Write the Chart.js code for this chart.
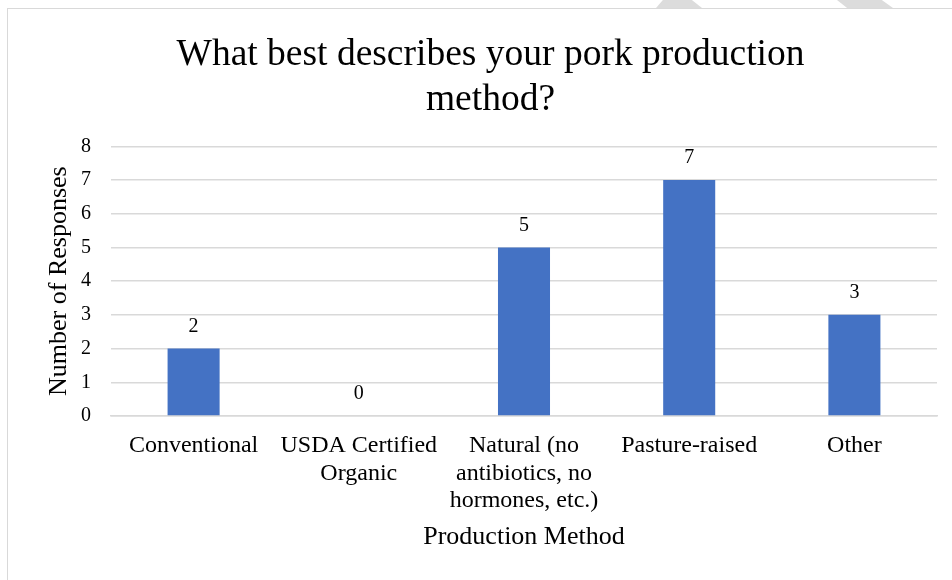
<!DOCTYPE html>
<html>
<head>
<meta charset="utf-8">
<script src="https://cdn.jsdelivr.net/npm/chart.js@4/dist/chart.umd.min.js"></script>
<style>
  html, body { margin: 0; padding: 0; background: #fff; }
  body { width: 952px; height: 580px; position: relative; overflow: hidden; }
  #frame { position: absolute; left: 7px; top: 8px; width: 960px; height: 600px; border-left: 1.5px solid #d9d9d9; border-top: 1.5px solid #d9d9d9; box-sizing: border-box; }
  #wrap { position: absolute; left: 0; top: 0; width: 952px; height: 580px; }
  .wm { position: absolute; top: 0; height: 8px; background: #dcdcdc; }
  #wm1 { left: 656px; width: 46px; clip-path: polygon(15% 0, 78% 0, 100% 100%, 0 100%); }
  #wm2 { left: 837px; width: 56px; clip-path: polygon(0 0, 80% 0, 100% 100%, 18% 100%); }
</style>
</head>
<body>
<div class="wm" id="wm1"></div>
<div class="wm" id="wm2"></div>
<div id="frame"></div>
<div id="wrap"><canvas id="c" width="952" height="580"></canvas></div>
<script>
const categories = [
  "Conventional",
  ["USDA Certified", "Organic"],
  ["Natural (no", "antibiotics, no", "hormones, etc.)"],
  "Pasture-raised",
  "Other"
];
const responses = [2, 0, 5, 7, 3];
const yTicks = [0, 1, 2, 3, 4, 5, 6, 7, 8];
const titleLines = ["What best describes your pork production", "method?"];
const xAxisTitle = "Production Method";
const yAxisTitle = "Number of Responses";

const FONT = "'Liberation Serif', 'Times New Roman', serif";

const valueLabels = {
  id: 'valueLabels',
  afterDatasetsDraw(chart) {
    const ctx = chart.ctx;
    const meta = chart.getDatasetMeta(0);
    ctx.save();
    ctx.font = "20px " + FONT;
    ctx.fillStyle = "#000";
    ctx.textAlign = "center";
    ctx.textBaseline = "middle";
    meta.data.forEach((bar, i) => {
      ctx.fillText(String(chart.data.datasets[0].data[i]), bar.x, bar.y - 22);
    });
    ctx.restore();
  }
};

new Chart(document.getElementById('c'), {
  type: 'bar',
  data: {
    labels: categories,
    datasets: [{
      data: responses,
      backgroundColor: '#4472C4',
      borderWidth: 0,
      barPercentage: 0.63,
      categoryPercentage: 0.5
    }]
  },
  options: {
    responsive: false,
    animation: false,
    devicePixelRatio: 1,
    layout: { padding: { left: 44, right: 15, top: 0, bottom: 27 } },
    plugins: {
      legend: { display: false },
      tooltip: { enabled: false },
      title: {
        display: true,
        text: titleLines,
        color: '#000',
        font: { family: FONT, size: 37.5, weight: 'normal', lineHeight: 1.19 },
        padding: { top: 33, bottom: 24 }
      }
    },
    scales: {
      x: {
        afterFit(scale) { scale.height = 137; },
        grid: { display: false, drawTicks: false },
        border: { display: true, color: '#d9d9d9', width: 1.5 },
        ticks: {
          color: '#000',
          font: { family: FONT, size: 24, lineHeight: 1.15 },
          padding: 16,
          maxRotation: 0,
          autoSkip: false
        },
        title: {
          display: true,
          text: xAxisTitle,
          color: '#000',
          font: { family: FONT, size: 26, lineHeight: 1.2 },
          padding: { top: 8, bottom: 0 }
        }
      },
      y: {
        min: 0,
        max: 8,
        afterBuildTicks(scale) { scale.ticks = yTicks.map(v => ({ value: v })); },
        afterFit(scale) { scale.width = 67; },
        grid: { color: '#d9d9d9', lineWidth: 1.5, drawTicks: false },
        border: { display: false },
        ticks: {
          color: '#000',
          font: { family: FONT, size: 20 },
          padding: 20
        },
        title: {
          display: true,
          text: yAxisTitle,
          color: '#000',
          font: { family: FONT, size: 26, lineHeight: 1.2 },
          padding: { top: 0, bottom: 0 }
        }
      }
    }
  },
  plugins: [valueLabels]
});
</script>
</body>
</html>
